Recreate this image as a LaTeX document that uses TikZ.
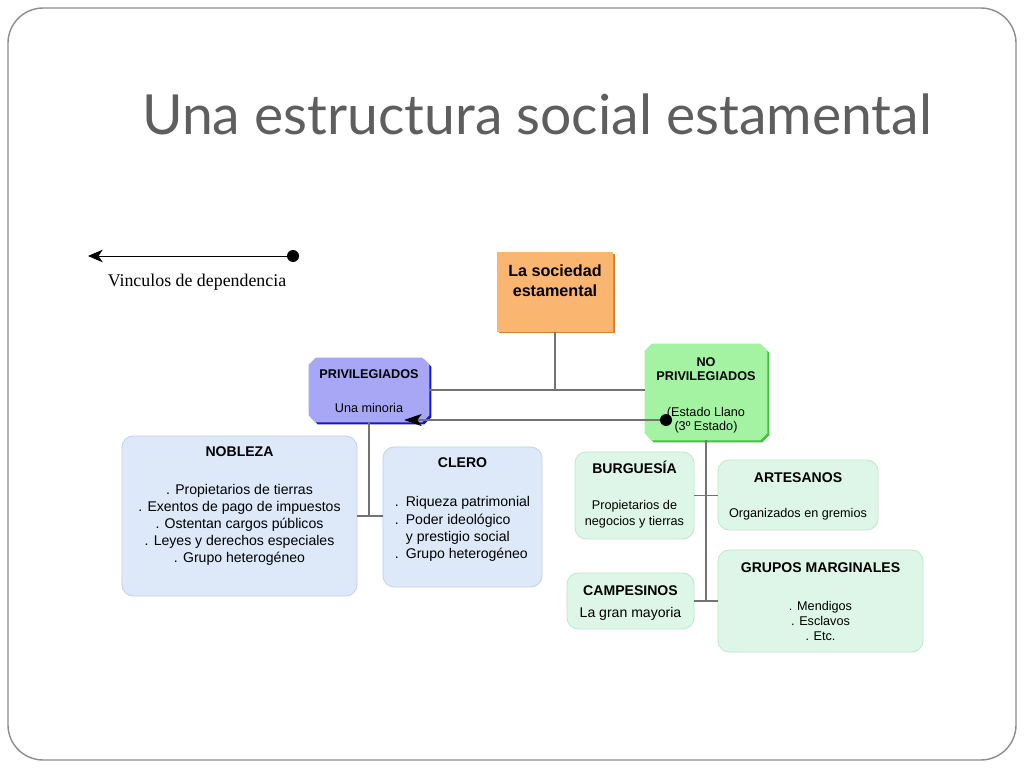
\documentclass[tikz,border=0pt]{standalone}
\usepackage{fontspec}
\setmainfont{Liberation Sans}
\newfontfamily\titlefont{Lato}
\newfontfamily\legendfont{Liberation Serif}
\usetikzlibrary{positioning, shadows, arrows.meta}

\definecolor{framegray}{HTML}{8C8C8C}
\definecolor{titlegray}{HTML}{5E5E5E}
\definecolor{linegray}{HTML}{737373}
\definecolor{socfill}{HTML}{FAB571}
\definecolor{socedge}{HTML}{D9822E}
\definecolor{privfill}{HTML}{A7A7F6}
\definecolor{privedge}{HTML}{1717C8}
\definecolor{nopfill}{HTML}{A3F3A3}
\definecolor{nopedge}{HTML}{3CC43C}
\definecolor{bluefill}{HTML}{DDE8F8}
\definecolor{blueedge}{HTML}{C3D4EE}
\definecolor{greenfill}{HTML}{DDF6E8}
\definecolor{greenedge}{HTML}{BFE8CF}

\newcommand{\cutbox}[1]{([xshift=5pt]#1.north west) -- ([xshift=-5pt]#1.north east) -- ([yshift=-5pt]#1.north east) -- ([yshift=5pt]#1.south east) -- ([xshift=-5pt]#1.south east) -- ([xshift=5pt]#1.south west) -- ([yshift=5pt]#1.south west) -- ([yshift=-5pt]#1.north west) -- cycle}

\begin{document}
\begin{tikzpicture}[x=0.025cm, y=-0.025cm,
  link/.style={draw=linegray, line width=1.4pt},
  dot/.style={circle, fill=black, inner sep=0pt, minimum size=0.3cm},
  socbox/.style={fill=socfill, drop shadow={shadow xshift=1.2pt, shadow yshift=-1.2pt, fill=socedge, opacity=1}},
  estbox/.style={inner sep=0pt},
  edgeshift/.style={transform canvas={shift={(1.4pt,-1.4pt)}}},
  bluebox/.style={fill=bluefill, draw=blueedge, rounded corners=8pt, line width=0.6pt},
  greenbox/.style={fill=greenfill, draw=greenedge, rounded corners=8pt, line width=0.6pt},
  hdr/.style={inner sep=0pt, align=center, font=\bfseries\fontsize{10}{12}\selectfont},
  smallhdr/.style={inner sep=0pt, align=center, font=\bfseries\fontsize{9}{9.5}\selectfont},
  txt/.style={inner sep=0pt, align=center, font=\fontsize{10}{12.1}\selectfont},
  smalltxt/.style={inner sep=0pt, align=center, font=\fontsize{9}{11.2}\selectfont}]

\useasboundingbox (0, 0) rectangle (1024, 768);
\fill[white] (0, 0) rectangle (1024, 768);
\draw[framegray, line width=1pt, rounded corners=25pt] (8, 8) rectangle (1016, 760);

\node (title) at (537, 135) [anchor=base, text=titlegray, font=\titlefont\fontsize{39.3}{46}\selectfont] {Una estructura social estamental};

\node (leg-dot) at (293, 256) [dot] {};
\coordinate (leg-tip) at (88, 256);
\draw[line width=0.7pt, -{Stealth[length=10.5pt, width=9pt, inset=3pt]}] (leg-dot) -- (leg-tip);
\node (leg-text) at (197, 286) [anchor=base, font=\legendfont\fontsize{12.7}{15}\selectfont] {Vinculos de dependencia};

\node (soc) at (555, 292) [socbox, minimum width=2.9cm, minimum height=1.98cm] {};
\node (priv) at (369, 390) [estbox, minimum width=3cm, minimum height=1.6cm] {};
\node (nopriv) at (706, 392) [estbox, minimum width=3.05cm, minimum height=2.4cm] {};

\fill[privedge, edgeshift] \cutbox{priv};
\fill[privfill] \cutbox{priv};
\fill[nopedge, edgeshift] \cutbox{nopriv};
\fill[nopfill] \cutbox{nopriv};

\node (noble) at (239.5, 516) [bluebox, minimum width=5.875cm, minimum height=4cm] {};
\node (clero) at (462.5, 517) [bluebox, minimum width=3.975cm, minimum height=3.5cm] {};

\node (burg) at (634.5, 495.5) [greenbox, minimum width=2.975cm, minimum height=2.175cm] {};
\node (art) at (798, 495) [greenbox, minimum width=4cm, minimum height=1.75cm] {};
\node (camp) at (630.5, 601) [greenbox, minimum width=3.175cm, minimum height=1.4cm] {};
\node (marg) at (820.5, 601) [greenbox, minimum width=5.125cm, minimum height=2.55cm] {};

\node (soc-t) [below=8.5pt of soc.north, inner sep=0pt, align=center, font=\bfseries\fontsize{11.5}{14.2}\selectfont] {La sociedad\\estamental};

\node (priv-h) [below=8.5pt of priv.north, smallhdr] {PRIVILEGIADOS};
\node (priv-b) [below=17pt of priv-h, smalltxt] {Una minoria};

\node (nopriv-h) [below=10pt of nopriv.north, smallhdr] {NO\\PRIVILEGIADOS};
\node (nopriv-b) [below=18.5pt of nopriv-h, smalltxt, font=\fontsize{9}{10}\selectfont] {(Estado Llano\\(3º Estado)};

\node (noble-h) [below=7.8pt of noble.north, hdr] {NOBLEZA};
\node (noble-b) [below=19pt of noble-h, txt] {. Propietarios de tierras\\. Exentos de pago de impuestos\\. Ostentan cargos públicos\\. Leyes y derechos especiales\\. Grupo heterogéneo};

\node (clero-h) [below=7.8pt of clero.north, hdr] {CLERO};
\node (clero-b) [below=20pt of clero-h, txt, align=left, font=\fontsize{10}{12.4}\selectfont] {.\enspace Riqueza patrimonial\\.\enspace Poder ideológico\\\phantom{.}\enspace y prestigio social\\.\enspace Grupo heterogéneo};

\node (burg-h) [below=6.4pt of burg.north, hdr] {BURGUESÍA};
\node (burg-b) [below=19pt of burg-h, smalltxt] {Propietarios de\\negocios y tierras};

\node (art-h) [below=9.2pt of art.north, hdr] {ARTESANOS};
\node (art-b) [below=17.8pt of art-h, smalltxt] {Organizados en gremios};

\node (camp-h) [below=9.2pt of camp.north, hdr] {CAMPESINOS};
\node (camp-b) [below=8pt of camp-h, txt] {La gran mayoria};

\node (marg-h) [below=9.2pt of marg.north, hdr] {GRUPOS MARGINALES};
\node (marg-b) [below=20pt of marg-h, smalltxt, font=\fontsize{9}{10.7}\selectfont] {. Mendigos\\. Esclavos\\. Etc.};

\draw[link] (soc.south) -- (soc.south |- priv.east);
\draw[link] (priv.east) -- (priv.east -| nopriv.west);

\node (dep-dot) at (666, 420) [dot] {};
\coordinate (dep-tip) at (404, 420);
\draw[link, -{Stealth[length=12.5pt, width=8.5pt, inset=3pt, color=black]}] (dep-dot) -- (dep-tip);

\draw[link] (priv.south) -- (priv.south |- noble.east);
\draw[link] (noble.east) -- (noble.east -| clero.west);

\draw[link] (nopriv.south) -- (nopriv.south |- camp.east);
\draw[link] (burg.east) -- (burg.east -| art.west);
\draw[link] (camp.east) -- (camp.east -| marg.west);

\end{tikzpicture}
\end{document}
